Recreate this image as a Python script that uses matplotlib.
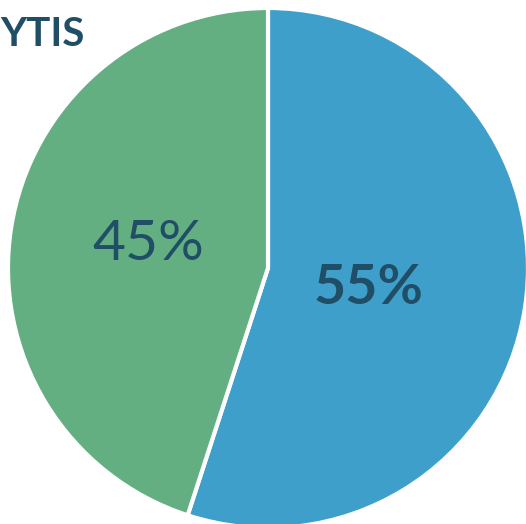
import matplotlib.pyplot as plt

# slice data
shares = [55, 45]
labels = ['55%', '45%']
colors = ['#3f9fcb', '#64af82']
title_text = 'YTIS'

fig = plt.figure(figsize=(5.26, 5.24), dpi=100)
ax = fig.add_axes([0, 0, 1, 1])

wedges, _ = ax.pie(shares, colors=colors, startangle=90, counterclock=False,
                   center=(268, 256), radius=260, frame=True,
                   wedgeprops=dict(edgecolor='white', linewidth=3))
ax.set_xlim(0, 526)
ax.set_ylim(0, 524)
ax.set_aspect('equal')
ax.axis('off')

ax.text(368, 236, labels[0], fontsize=40, fontweight='bold', color='#1f4e66',
        ha='center', va='center', family='Lato')
ax.text(148, 280, labels[1], fontsize=41, color='#1f4e66',
        ha='center', va='center', family='Lato')

ax.text(0, 490, title_text, fontsize=29, fontweight='bold', color='#1f4e66',
        ha='left', va='center', family='Lato')

fig.savefig('out.png', dpi=100)
